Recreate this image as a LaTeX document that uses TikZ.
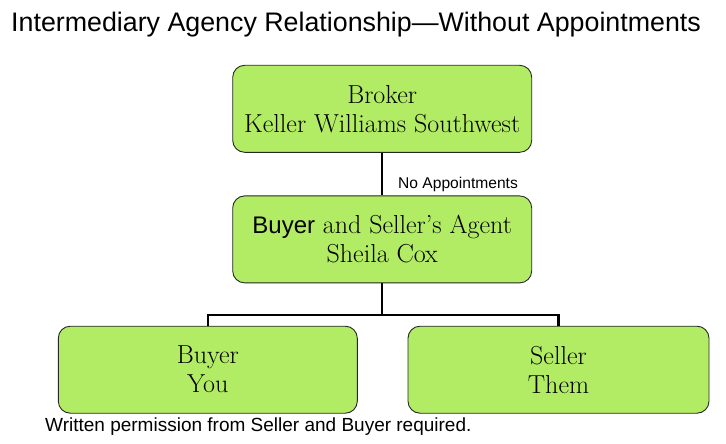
\documentclass[tikz,border=0pt]{standalone}
\usepackage{fontspec}
\setsansfont{Liberation Sans}
\usepackage{tikz}
\usetikzlibrary{arrows}
\usetikzlibrary{shapes}
\definecolor{boxgreen}{RGB}{178,236,100}

\begin{document}
\begin{tikzpicture}[x=1pt,y=-1pt,every node/.style = {inner sep=0pt, align=center}]

\tikzstyle{box}=[rectangle, rounded corners=12pt, draw=black!85, line width=0.9pt, fill=boxgreen, minimum height=87pt, font=\fontsize{26}{29}\selectfont]
\tikzstyle{link}=[line width=2.5pt]
\tikzstyle{note}=[anchor=base west, font=\sffamily\fontsize{19}{22}\selectfont]

\useasboundingbox (0,0) rectangle (726,444);

\node[note, font=\sffamily\fontsize{26.8}{30}\selectfont] (title) at (11,31.5) {Intermediary Agency Relationship—Without Appointments};

\node[box, minimum width=299pt] (broker) at (382.2,108.8) {Broker\\Keller Williams Southwest};
\node[box, minimum width=299pt] (agent) at (382.2,239.4) {{\sffamily\fontsize{24}{29}\selectfont Buyer} and Seller’s Agent\\Sheila Cox};
\node[box, minimum width=299pt] (buyer) at (207.8,369.7) {Buyer\\You};
\node[box, minimum width=301pt] (seller) at (558.5,369.7) {Seller\\Them};

\draw[link] (broker.south) -- (agent.north);
\node[note, font=\sffamily\fontsize{15.6}{18}\selectfont] (noappt) at (398,188.5) {No Appointments};
\draw[link] (agent.south) -- ++(0,31.5) coordinate (fork);
\draw[link] (fork) -| (buyer.north);
\draw[link] (fork) -| (seller.north);

\node[note] (permission) at (45,431) {Written permission from Seller and Buyer required.};
\end{tikzpicture}
\end{document}
